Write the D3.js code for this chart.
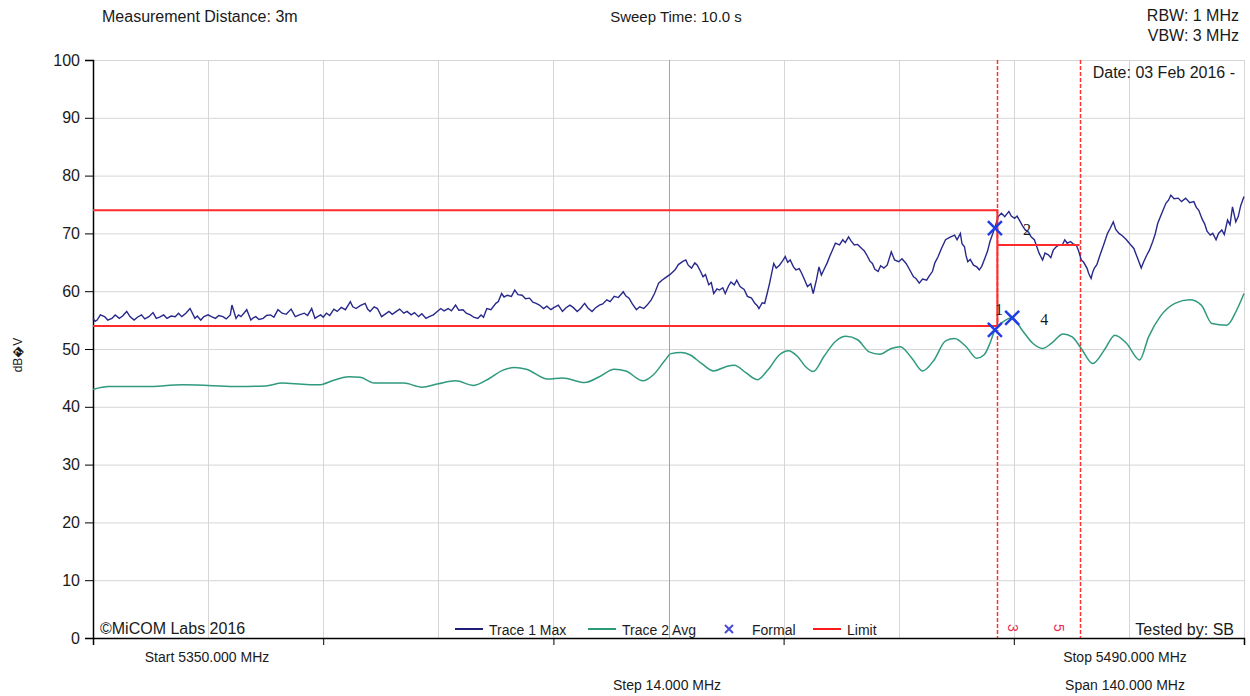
<!DOCTYPE html>
<html>
<head>
<meta charset="utf-8">
<script src="https://cdn.jsdelivr.net/npm/d3@7"></script>
<style>
  body { margin: 0; background: #fff; }
  text { font-family: "Liberation Sans", Arial, sans-serif; fill: #1a1a1a; }
</style>
</head>
<body>
<svg id="chart" width="1250" height="696"></svg>
<script>
// frequency in MHz, level in dBuV
const trace1Max = [
  [5350.0,55.3],[5350.25,54.8],[5350.5,55.0],[5350.9,55.9],[5351.4,55.6],[5351.8,55.0],[5352.3,55.3],[5352.7,55.9],
  [5353.2,55.3],[5353.6,55.7],[5354.1,56.5],[5354.5,55.6],[5355.0,55.0],[5355.4,55.5],[5355.9,55.9],[5356.3,55.2],
  [5356.8,55.6],[5357.3,56.3],[5357.7,55.3],[5358.1,55.5],[5358.6,55.9],[5359.0,55.3],[5359.5,55.7],[5360.0,55.6],
  [5360.4,56.2],[5360.8,55.6],[5361.3,56.2],[5361.8,57.0],[5362.4,55.3],[5362.7,55.7],[5363.1,55.0],[5363.5,55.6],
  [5364.0,55.9],[5364.4,55.6],[5364.9,55.3],[5365.3,55.8],[5365.8,55.6],[5366.2,55.2],[5366.7,55.9],[5366.9,57.6],
  [5367.4,55.3],[5367.7,55.9],[5368.0,55.6],[5368.7,56.8],[5369.2,55.0],[5369.5,55.4],[5369.8,55.6],[5370.2,55.1],
  [5370.7,55.3],[5371.1,55.8],[5371.6,55.9],[5372.0,55.5],[5372.5,56.8],[5373.0,56.2],[5373.5,56.0],[5374.1,56.9],
  [5374.6,55.6],[5375.1,55.9],[5375.7,56.2],[5376.1,55.8],[5376.6,57.0],[5377.0,55.3],[5377.3,55.6],[5377.7,55.9],
  [5378.0,55.5],[5378.4,56.2],[5378.8,55.8],[5379.3,56.9],[5379.7,56.5],[5380.2,57.2],[5380.7,56.8],[5381.3,58.2],
  [5381.6,57.3],[5382.0,57.0],[5382.5,57.5],[5383.1,57.9],[5383.4,56.9],[5383.7,56.5],[5384.2,57.3],[5384.6,57.0],
  [5385.1,55.6],[5385.5,56.0],[5386.0,56.5],[5386.4,56.0],[5386.9,56.5],[5387.3,56.9],[5387.8,56.2],[5388.2,56.5],
  [5388.7,55.9],[5389.1,56.3],[5389.6,55.6],[5390.0,56.1],[5390.5,55.3],[5390.9,55.6],[5391.4,55.9],[5391.8,56.4],
  [5392.3,57.0],[5392.7,56.6],[5393.2,57.0],[5393.6,56.6],[5394.1,57.6],[5394.5,56.7],[5395.0,56.8],[5395.4,56.2],
  [5395.9,55.9],[5396.3,55.5],[5396.8,55.3],[5397.2,55.9],[5397.5,55.5],[5397.9,57.0],[5398.4,56.8],[5399.0,57.9],
  [5399.3,58.2],[5399.7,59.6],[5400.0,59.0],[5400.4,59.3],[5400.9,59.1],[5401.3,60.2],[5401.7,59.4],[5402.2,59.3],
  [5402.6,58.7],[5403.1,58.8],[5403.5,58.1],[5403.9,57.9],[5404.3,57.6],[5404.8,57.0],[5405.2,57.4],[5405.7,56.8],
  [5406.1,57.2],[5406.6,57.6],[5407.1,56.5],[5407.5,57.1],[5408.0,57.6],[5408.4,57.2],[5408.9,56.5],[5409.3,57.0],
  [5409.8,57.9],[5410.2,57.1],[5410.7,56.5],[5411.1,57.1],[5411.6,57.6],[5412.0,57.8],[5412.5,58.5],[5412.9,58.2],
  [5413.4,59.1],[5413.9,58.9],[5414.5,59.9],[5414.8,59.2],[5415.2,58.8],[5415.6,57.8],[5416.1,56.8],[5416.5,57.3],
  [5417.0,57.0],[5417.4,57.6],[5417.9,58.5],[5418.3,59.6],[5418.8,61.4],[5419.2,61.9],[5419.6,62.3],[5420.2,62.9],
  [5420.8,63.7],[5421.2,64.6],[5421.7,65.1],[5422.1,65.4],[5422.4,64.5],[5422.8,64.0],[5423.2,64.9],[5423.5,64.5],
  [5423.9,63.4],[5424.2,62.5],[5424.5,62.9],[5424.9,61.1],[5425.2,61.5],[5425.5,59.6],[5425.9,60.4],[5426.2,60.2],
  [5426.6,60.6],[5426.9,59.6],[5427.3,60.9],[5427.6,61.6],[5428.0,61.1],[5428.3,61.9],[5428.7,60.8],[5429.2,60.3],
  [5429.6,59.1],[5430.1,58.8],[5430.5,57.9],[5430.8,57.5],[5431.0,57.0],[5431.4,58.0],[5431.7,57.9],[5432.0,59.6],
  [5432.3,61.4],[5432.8,64.8],[5433.1,64.0],[5433.5,64.5],[5433.9,65.3],[5434.2,66.0],[5434.5,65.0],[5434.8,65.4],
  [5435.2,64.2],[5435.5,63.7],[5435.9,63.9],[5436.2,63.1],[5436.6,61.8],[5436.9,60.8],[5437.3,61.3],[5437.6,59.6],
  [5438.0,62.0],[5438.3,64.2],[5438.6,62.8],[5438.9,63.7],[5439.3,64.9],[5439.6,66.0],[5440.0,67.3],[5440.3,68.3],
  [5440.8,68.0],[5441.2,68.9],[5441.5,68.4],[5441.9,69.4],[5442.2,68.7],[5442.6,68.0],[5443.0,68.1],[5443.5,67.4],
  [5443.8,67.0],[5444.1,66.3],[5444.5,65.2],[5444.8,64.8],[5445.1,63.8],[5445.5,63.4],[5445.8,64.4],[5446.2,64.0],
  [5446.6,64.5],[5447.1,66.8],[5447.5,65.4],[5448.0,65.1],[5448.4,65.6],[5448.9,64.8],[5449.3,63.8],[5449.8,62.5],
  [5450.1,62.2],[5450.5,61.4],[5450.9,62.1],[5451.4,61.9],[5451.7,62.6],[5452.1,63.4],[5452.4,64.9],[5452.8,66.0],
  [5453.2,67.4],[5453.7,68.9],[5454.2,69.3],[5454.8,69.7],[5455.1,68.9],[5455.5,70.0],[5455.7,68.2],[5456.0,67.7],
  [5456.2,66.1],[5456.4,65.1],[5456.7,65.5],[5457.1,64.5],[5457.5,64.2],[5457.8,63.7],[5458.1,64.3],[5458.4,65.4],
  [5458.8,66.9],[5459.1,68.6],[5459.7,71.0],[5460.1,72.9],[5460.5,73.5],[5460.9,72.9],[5461.4,73.8],[5461.7,73.0],
  [5462.1,72.6],[5462.4,73.0],[5462.8,72.0],[5463.1,71.2],[5463.4,70.6],[5463.8,70.2],[5464.1,69.4],[5464.5,68.9],
  [5464.8,67.7],[5465.1,66.5],[5465.5,65.4],[5465.8,66.6],[5466.2,66.3],[5466.5,65.8],[5466.8,67.1],[5467.1,67.6],
  [5467.5,68.0],[5467.9,68.0],[5468.2,68.9],[5468.5,68.3],[5468.9,68.6],[5469.2,68.2],[5469.6,68.0],[5469.9,66.9],
  [5470.2,65.4],[5470.5,65.0],[5470.9,64.0],[5471.1,63.1],[5471.4,62.2],[5471.6,63.3],[5471.8,64.0],[5472.1,64.6],
  [5472.5,66.3],[5472.9,67.9],[5473.4,70.0],[5473.7,70.8],[5474.1,72.0],[5474.4,70.7],[5474.8,70.0],[5475.2,69.6],
  [5475.7,68.9],[5476.1,68.2],[5476.6,67.4],[5477.0,65.9],[5477.5,64.0],[5477.8,65.1],[5478.2,66.3],[5478.5,67.1],
  [5478.9,68.6],[5479.2,69.9],[5479.5,71.7],[5480.0,73.5],[5480.5,75.2],[5480.8,75.7],[5481.1,76.6],[5481.5,76.0],
  [5482.0,76.1],[5482.4,75.5],[5482.9,76.1],[5483.4,75.3],[5483.9,75.5],[5484.2,74.5],[5484.5,74.0],[5484.9,72.5],
  [5485.2,71.7],[5485.5,70.4],[5485.9,69.7],[5486.2,70.0],[5486.6,68.9],[5486.9,70.0],[5487.3,70.6],[5487.6,69.8],
  [5488.0,72.3],[5488.3,71.5],[5488.6,74.6],[5489.0,72.0],[5489.3,72.9],[5489.6,74.8],[5490.0,76.4]
];

const trace2Avg = [
  [5350.0,43.0],[5351.9,43.5],[5356.4,43.5],[5360.9,43.8],[5364.0,43.7],[5367.6,43.5],[5371.0,43.6],[5373.0,44.1],
  [5375.5,43.9],[5377.5,43.8],[5379.3,44.6],[5381.1,45.2],[5382.5,45.1],[5384.2,44.1],[5387.8,44.1],[5390.0,43.4],
  [5392.0,44.0],[5394.1,44.5],[5396.3,43.7],[5398.2,44.9],[5399.8,46.3],[5401.3,46.8],[5402.7,46.5],[5405.3,44.8],
  [5407.1,45.0],[5409.8,44.2],[5411.6,45.2],[5413.4,46.5],[5414.8,46.2],[5416.9,44.5],[5418.2,45.6],[5419.6,48.1],
  [5420.3,49.2],[5421.5,49.4],[5422.6,49.0],[5424.0,47.5],[5425.5,46.2],[5426.9,46.9],[5428.0,47.2],[5429.4,45.9],
  [5430.8,44.7],[5432.1,46.4],[5433.5,49.0],[5434.6,49.7],[5435.7,48.7],[5436.7,46.9],[5437.6,46.1],[5438.9,48.7],
  [5440.3,51.3],[5441.6,52.2],[5443.0,51.6],[5444.4,49.5],[5445.7,49.1],[5447.1,50.1],[5448.2,50.4],[5449.6,48.4],
  [5450.9,46.2],[5452.3,48.1],[5453.7,51.4],[5454.8,51.8],[5456.2,50.4],[5457.5,48.4],[5458.4,49.0],[5459.1,51.0],
  [5459.7,53.3],[5460.6,54.6],[5461.8,55.4],[5463.0,53.3],[5464.3,51.0],[5465.5,50.1],[5466.6,51.0],[5468.0,52.6],
  [5469.1,52.1],[5470.2,50.1],[5471.6,47.5],[5473.0,49.8],[5474.3,52.4],[5475.7,51.0],[5477.3,48.1],[5478.4,52.1],
  [5479.8,55.6],[5481.6,57.9],[5483.4,58.5],[5484.8,57.6],[5486.1,54.4],[5487.9,54.1],[5489.1,56.7],[5490.0,59.6]
];

// limit mask: peak 74 / average 54 below 5460 MHz, 68 in the 5460-5470 band
const limitMain = [[5350,74],[5460,74],[5460,54],[5350,54]];
const limitBand = [[5460,68],[5470,68]];
const bandEdges = [{ f: 5460, label: "3" }, { f: 5470, label: "5" }];

const formalMarkers = [
  { id: "1", f: 5459.7, v: 53.3 },
  { id: "2", f: 5459.7, v: 70.9 },
  { id: "4", f: 5461.8, v: 55.4 }
];

const yTicks = [0, 10, 20, 30, 40, 50, 60, 70, 80, 90, 100];
const xGrid = d3.range(5350, 5490.1, 14);
const xTicks = d3.range(5350, 5490.1, 28);

const legendItems = [
  { label: "Trace 1 Max", kind: "line", color: "#1f1f7a" },
  { label: "Trace 2 Avg", kind: "line", color: "#2a9a78" },
  { label: "Formal", kind: "cross", color: "#4a4ad8" },
  { label: "Limit", kind: "line", color: "#ff1a1a" }
];

const svg = d3.select("#chart");
const x = d3.scaleLinear().domain([5350, 5490]).range([93, 1244]);
const y = d3.scaleLinear().domain([0, 100]).range([638, 60]);

// grid
svg.append("g").selectAll("line").data(yTicks).join("line")
  .attr("x1", x(5350)).attr("x2", x(5490))
  .attr("y1", d => y(d) + 0.5).attr("y2", d => y(d) + 0.5)
  .attr("stroke", "#d6d6d6");
svg.append("g").selectAll("line").data(xGrid).join("line")
  .attr("x1", d => Math.round(x(d)) + 0.5).attr("x2", d => Math.round(x(d)) + 0.5)
  .attr("y1", y(100)).attr("y2", y(0))
  .attr("stroke", d => d === 5420 ? "#a4a4a4" : "#d6d6d6");

// axes
const yAxis = d3.axisLeft(y).tickValues(yTicks).tickSize(8).tickPadding(5);
const gy = svg.append("g").attr("transform", `translate(${x(5350)},0)`).call(yAxis);
gy.selectAll("text").style("font-size", "16px").attr("fill", "#1a1a1a");
gy.select(".domain").attr("stroke", "#000").attr("stroke-width", 1.5);

const xAxis = d3.axisBottom(x).tickValues(xTicks).tickSize(7).tickFormat("");
const gx = svg.append("g").attr("transform", `translate(0,${y(0)})`).call(xAxis);
gx.select(".domain").attr("stroke", "#000").attr("stroke-width", 1.5);
gx.selectAll(".tick line").attr("stroke", "#000");

svg.append("text").attr("transform", "translate(22,355) rotate(-90)")
  .attr("text-anchor", "middle").style("font-size", "12px").text("dB\uFFFDV");

// band edge lines
svg.append("g").selectAll("line").data(bandEdges).join("line")
  .attr("x1", d => Math.round(x(d.f)) + 0.5).attr("x2", d => Math.round(x(d.f)) + 0.5)
  .attr("y1", y(100)).attr("y2", y(0))
  .attr("stroke", "#ff3030").attr("stroke-width", 1.5).attr("stroke-dasharray", "4,2");
svg.append("g").selectAll("text").data(bandEdges).join("text")
  .attr("transform", (d, i) => `translate(${x(d.f) + (i === 0 ? 11 : -26)},624) rotate(90)`)
  .style("font-size", "14px").style("fill", "#e8305a").text(d => d.label);

// traces
svg.append("path").datum(trace2Avg)
  .attr("d", d3.line().x(d => x(d[0])).y(d => y(d[1])).curve(d3.curveMonotoneX))
  .attr("fill", "none").attr("stroke", "#2f9a7e").attr("stroke-width", 1.5);
svg.append("path").datum(trace1Max)
  .attr("d", d3.line().x(d => x(d[0])).y(d => y(d[1])))
  .attr("fill", "none").attr("stroke", "#28288c").attr("stroke-width", 1.4);

// limits
const limitLine = d3.line().x(d => x(d[0])).y(d => y(d[1]));
svg.append("path").attr("d", limitLine(limitMain))
  .attr("fill", "none").attr("stroke", "#ff2a2a").attr("stroke-width", 2);
svg.append("path").attr("d", limitLine(limitBand))
  .attr("fill", "none").attr("stroke", "#ff2a2a").attr("stroke-width", 2);

// formal markers
const mk = svg.append("g").selectAll("g").data(formalMarkers).join("g")
  .attr("transform", d => `translate(${x(d.f)},${y(d.v)})`);
mk.append("path").attr("d", "M-7,-7L7,7M-7,7L7,-7")
  .attr("stroke", "#1f3ee6").attr("stroke-width", 2.5);
mk.append("text")
  .attr("x", d => d.id === "1" ? 0 : 28).attr("y", d => d.id === "1" ? -15 : 7)
  .style("font-family", "'Liberation Serif', 'Times New Roman', serif")
  .style("font-size", "16px").text(d => d.id);

// legend
const legendX = [455, 588, 722, 813];
const lg = svg.append("g").selectAll("g").data(legendItems).join("g")
  .attr("transform", (d, i) => `translate(${legendX[i]},629)`);
lg.filter(d => d.kind === "line").append("line")
  .attr("x1", 0).attr("x2", 28).attr("stroke", d => d.color).attr("stroke-width", 2);
lg.filter(d => d.kind === "cross").append("path")
  .attr("d", "M3,-4L11,4M3,4L11,-4").attr("stroke", d => d.color).attr("stroke-width", 2);
lg.append("text").attr("x", d => d.kind === "cross" ? 30 : 34).attr("y", 6)
  .style("font-size", "14px").text(d => d.label);

// header and footer texts
const notes = [
  { t: "Measurement Distance: 3m", x: 102, y: 22, a: "start", s: 16 },
  { t: "Sweep Time: 10.0 s", x: 676, y: 22, a: "middle", s: 15 },
  { t: "RBW: 1 MHz", x: 1239, y: 21, a: "end", s: 16 },
  { t: "VBW: 3 MHz", x: 1239, y: 41, a: "end", s: 16 },
  { t: "Date: 03 Feb 2016 -", x: 1235, y: 78, a: "end", s: 16 },
  { t: "\u00A9MiCOM Labs 2016", x: 100, y: 634, a: "start", s: 16 },
  { t: "Tested by: SB", x: 1234, y: 635, a: "end", s: 16 },
  { t: "Start 5350.000 MHz", x: 207, y: 662, a: "middle", s: 14 },
  { t: "Stop 5490.000 MHz", x: 1125, y: 662, a: "middle", s: 14 },
  { t: "Step 14.000 MHz", x: 667, y: 690, a: "middle", s: 14 },
  { t: "Span 140.000 MHz", x: 1125, y: 690, a: "middle", s: 14 }
];
svg.append("g").selectAll("text").data(notes).join("text")
  .attr("x", d => d.x).attr("y", d => d.y).attr("text-anchor", d => d.a)
  .style("font-size", d => d.s + "px").text(d => d.t);
</script>
</body>
</html>
